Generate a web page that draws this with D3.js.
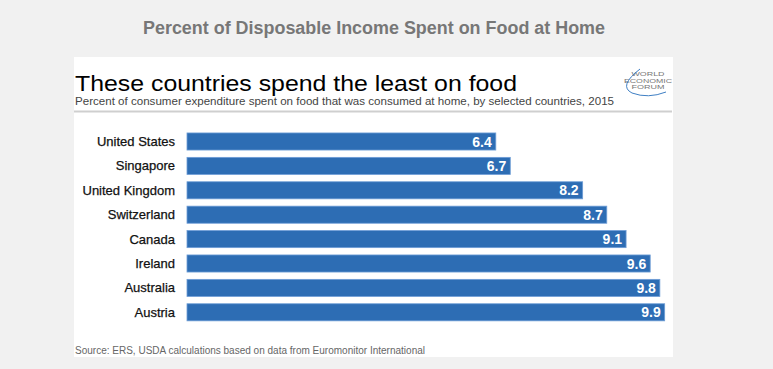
<!DOCTYPE html>
<html>
<head>
<meta charset="utf-8">
<script src="https://cdn.jsdelivr.net/npm/d3@7"></script>
<style>
  html, body { margin: 0; padding: 0; background: #f1f1f1; }
  svg { display: block; }
  text { font-family: "Liberation Sans", Arial, Helvetica, sans-serif; }
</style>
</head>
<body>
<div id="chart"></div>
<script>
const countries = ["United States", "Singapore", "United Kingdom", "Switzerland", "Canada", "Ireland", "Australia", "Austria"];
const values = [6.4, 6.7, 8.2, 8.7, 9.1, 9.6, 9.8, 9.9];
const pageTitle = "Percent of Disposable Income Spent on Food at Home";
const heading = "These countries spend the least on food";
const subtitle = "Percent of consumer expenditure spent on food that was consumed at home, by selected countries, 2015";
const source = "Source: ERS, USDA calculations based on data from Euromonitor International";
const logoLines = ["WORLD", "ECONOMIC", "FORUM"];

const W = 773, H = 369;
const svg = d3.select("#chart").append("svg").attr("width", W).attr("height", H);

svg.append("rect").attr("width", W).attr("height", H).attr("fill", "#f1f1f1");

// page title
svg.append("text").attr("x", 374).attr("y", 34).attr("text-anchor", "middle")
  .attr("font-size", 18).attr("font-weight", "bold").attr("fill", "#777")
  .attr("textLength", 462).attr("lengthAdjust", "spacingAndGlyphs")
  .text(pageTitle);

// white panel
svg.append("rect").attr("x", 74).attr("y", 57).attr("width", 599).attr("height", 300).attr("fill", "#fff");

svg.append("text").attr("x", 75).attr("y", 91)
  .attr("font-size", 22).attr("fill", "#000")
  .attr("textLength", 442).attr("lengthAdjust", "spacingAndGlyphs")
  .text(heading);

svg.append("text").attr("x", 75).attr("y", 104.5)
  .attr("font-size", 11.2).attr("fill", "#444")
  .attr("textLength", 539).attr("lengthAdjust", "spacingAndGlyphs")
  .text(subtitle);

svg.append("line").attr("x1", 74).attr("x2", 672).attr("y1", 111.5).attr("y2", 111.5)
  .attr("stroke", "#cfcfcf").attr("stroke-width", 2);

// logo
const logoY = [76, 82.5, 89];
const logoW = [33, 48, 33];
logoLines.forEach((t, i) => {
  svg.append("text").attr("x", 648).attr("y", logoY[i]).attr("text-anchor", "middle")
    .attr("font-size", 5.8).attr("fill", "#777")
    .attr("textLength", logoW[i]).attr("lengthAdjust", "spacingAndGlyphs")
    .text(t);
});
svg.append("path").attr("d", "M640,69 Q618,86 632,93 Q648,99 666,92")
  .attr("fill", "none").attr("stroke", "#3f7fc4").attr("stroke-width", 1);

// scales
const x = d3.scaleLinear().domain([0, 10]).range([187, 669.5]);
const y = d3.scaleBand().domain(countries).range([129.3, 129.3 + 8 * 24.4]).paddingInner(0.3).paddingOuter(0.15);

const data = countries.map((c, i) => ({ c, v: values[i] }));

const g = svg.append("g");
g.selectAll("rect.bar").data(data).join("rect").attr("class", "bar")
  .attr("x", x(0)).attr("y", d => y(d.c))
  .attr("width", d => x(d.v) - x(0)).attr("height", y.bandwidth())
  .attr("fill", "#2d6db4").attr("stroke", "#6e9dd6").attr("stroke-width", 0.8);

g.selectAll("text.val").data(data).join("text").attr("class", "val")
  .attr("x", d => x(d.v) - 4).attr("y", d => y(d.c) + y.bandwidth() / 2 + 5)
  .attr("text-anchor", "end").attr("font-size", 14).attr("font-weight", "bold").attr("fill", "#fff")
  .text(d => d3.format(".1f")(d.v));

// category axis (labels only)
const yAxis = d3.axisLeft(y).tickSize(0).tickPadding(12);
const ag = svg.append("g").attr("transform", `translate(${x(0)},0)`).call(yAxis);
ag.select(".domain").remove();
ag.selectAll("text").attr("font-size", 13).attr("fill", "#111").attr("stroke", "#111").attr("stroke-width", 0.25)
  .attr("dy", "0.35em").attr("font-family", "'Liberation Sans', Arial, sans-serif");

svg.append("text").attr("x", 75).attr("y", 354)
  .attr("font-size", 10).attr("fill", "#666")
  .attr("textLength", 350).attr("lengthAdjust", "spacingAndGlyphs")
  .text(source);
</script>
</body>
</html>
